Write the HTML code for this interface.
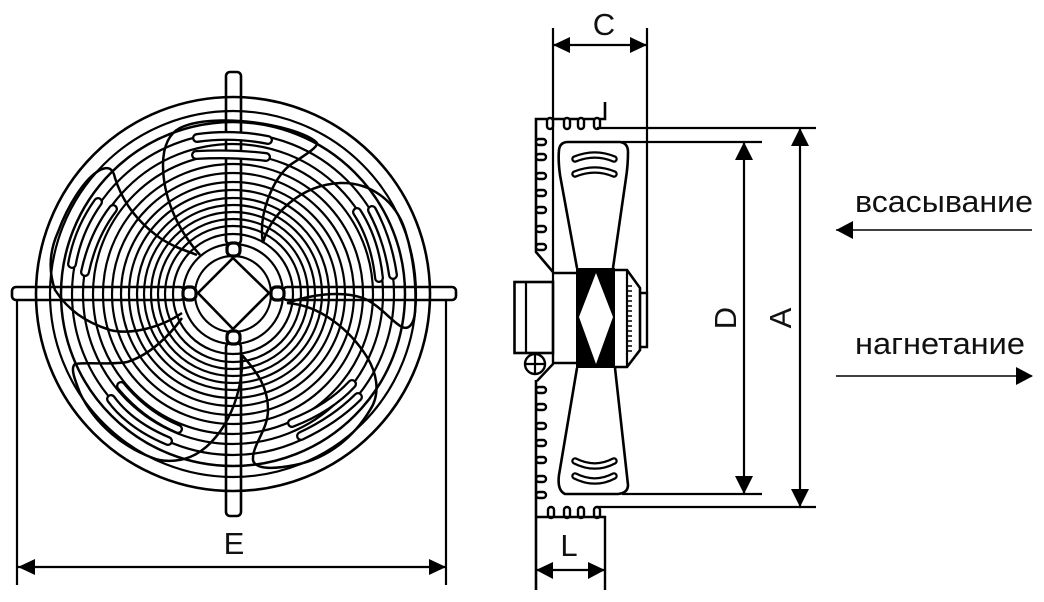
<!DOCTYPE html>
<html><head><meta charset="utf-8"><style>
html,body{margin:0;padding:0;background:#fff}
svg{display:block}
text{font-family:"Liberation Sans",sans-serif;fill:#111}
</style></head><body>
<svg width="1044" height="602" viewBox="0 0 1044 602" xmlns="http://www.w3.org/2000/svg">
<rect width="1044" height="602" fill="#fff"/>
<g fill="none" stroke="#000" stroke-width="2.2">
<g>
<circle cx="233" cy="294" r="197" stroke-width="2.6"/><circle cx="233" cy="294" r="183"/><circle cx="233" cy="294" r="172" stroke-width="2.5"/><circle cx="233" cy="294" r="161"/><circle cx="233" cy="294" r="150"/><circle cx="233" cy="294" r="140"/><circle cx="233" cy="294" r="130"/><circle cx="233" cy="294" r="121"/><circle cx="233" cy="294" r="112"/><circle cx="233" cy="294" r="104"/><circle cx="233" cy="294" r="96"/><circle cx="233" cy="294" r="89"/><circle cx="233" cy="294" r="82"/><circle cx="233" cy="294" r="75"/><circle cx="233" cy="294" r="68"/><circle cx="233" cy="294" r="60"/><circle cx="233" cy="294" r="50"/><circle cx="233" cy="294" r="38"/>
</g>
<path d="M233 258L269 293L233 329L198 293Z" fill="#fff" stroke-width="2.6"/>
<g stroke-width="2.6">
<rect x="12" y="287" width="172" height="13" rx="4"/>
<rect x="283" y="287" width="173" height="13" rx="4"/>
<rect x="226" y="72" width="15" height="172" rx="4"/>
<rect x="226" y="343" width="15" height="173" rx="4"/>
</g>
<g fill="#fff" stroke-width="3.2">
<rect x="183" y="287" width="13" height="13" rx="5"/><rect x="271" y="287" width="13" height="13" rx="5"/><rect x="227" y="243" width="13" height="13" rx="5"/><rect x="227" y="331" width="13" height="13" rx="5"/>
</g>
<g stroke-width="2.5">
<path d="M200 255C176 228 163 195 163 165C163 145 170 133 180 128C200 118 240 119 270 125C295 130 312 137 317 143C318 148 300 158 290 165C272 180 258 215 263 243"/>
<path d="M263 243C270 215 300 185 340 183C370 182 395 200 405 230C413 255 417 285 415 312C414 325 408 330 402 327C392 322 380 305 363 298C340 290 310 295 287 303"/>
<path d="M287 303C320 305 350 330 367 357C378 375 380 395 370 410C355 435 330 458 295 465C275 469 255 470 253 460C252 445 268 430 268 410C268 385 255 370 242 355"/>
<path d="M242 355C244 400 220 445 190 457C175 463 160 461 153 458C125 448 95 425 80 393C75 380 70 368 75 364C90 362 110 365 127 362C150 355 170 335 182 318"/>
<path d="M182 313C160 328 130 335 110 330C85 322 68 310 55 290C48 270 50 250 58 232C68 205 85 178 100 170C108 166 113 168 115 178C122 200 135 220 160 238C175 248 190 252 197 255"/>
</g>
<g stroke-linecap="round">
<g stroke="#000" stroke-width="10">
<path d="M197 138Q233 133 268 140"/><path d="M196 155Q233 153 266 157"/>
<path d="M357 212Q375 240 379 278"/><path d="M372 210Q388 240 393 275"/>
<path d="M98 202Q78 230 72 264"/><path d="M113 209Q93 235 85 272"/>
<path d="M111 399Q130 425 168 441"/><path d="M121 386Q145 415 178 429"/>
<path d="M352 384Q330 408 292 423"/><path d="M358 397Q335 420 301 436"/>
</g>
<g stroke="#fff" stroke-width="5.400">
<path d="M197 138Q233 133 268 140"/><path d="M196 155Q233 153 266 157"/>
<path d="M357 212Q375 240 379 278"/><path d="M372 210Q388 240 393 275"/>
<path d="M98 202Q78 230 72 264"/><path d="M113 209Q93 235 85 272"/>
<path d="M111 399Q130 425 168 441"/><path d="M121 386Q145 415 178 429"/>
<path d="M352 384Q330 408 292 423"/><path d="M358 397Q335 420 301 436"/>
</g>
</g>

<path d="M605 102V119H536V252L553 272" stroke-width="2.6"/>
<path d="M553 28V353"/>
<path d="M647 28V293"/>
<g stroke-width="2.4" fill="#fff">
<rect x="547" y="118" width="6" height="11" rx="3"/><rect x="564" y="118" width="6" height="11" rx="3"/><rect x="578" y="118" width="6" height="11" rx="3"/><rect x="594" y="118" width="6" height="11" rx="3"/>
<rect x="536" y="139" width="10" height="6" rx="3"/><rect x="536" y="154" width="10" height="6" rx="3"/><rect x="536" y="173" width="10" height="6" rx="3"/><rect x="536" y="190" width="10" height="6" rx="3"/><rect x="536" y="207" width="10" height="6" rx="3"/><rect x="536" y="226" width="10" height="6" rx="3"/><rect x="536" y="244" width="10" height="6" rx="3"/>
<rect x="536" y="387" width="10" height="6" rx="3"/><rect x="536" y="404" width="10" height="6" rx="3"/><rect x="536" y="423" width="10" height="6" rx="3"/><rect x="536" y="440" width="10" height="6" rx="3"/><rect x="536" y="457" width="10" height="6" rx="3"/><rect x="536" y="476" width="10" height="6" rx="3"/><rect x="536" y="492" width="10" height="6" rx="3"/>
<rect x="548" y="507" width="6" height="11" rx="3"/><rect x="564" y="507" width="6" height="11" rx="3"/><rect x="578" y="507" width="6" height="11" rx="3"/><rect x="594" y="507" width="6" height="11" rx="3"/>
</g>
<path d="M597 128H816M597 507H816"/>
<path d="M622 142H762M622 494H762"/>
<path d="M577 268L560 175Q558 160 559 150Q560 142 568 142H620Q628 143 628 152Q628 165 626 178L613 268" stroke-width="2.6"/>
<path d="M577 368L559 475Q557 490 565 494H618Q628 493 628 485L615 368" stroke-width="2.6"/>
<g stroke-linecap="round">
<g stroke="#000" stroke-width="7.500">
<path d="M575 159Q595 151 614 159"/><path d="M575 174Q595 166 614 174"/><path d="M575 461Q595 471 614 461"/><path d="M575 476Q595 486 614 476"/>
</g>
<g stroke="#fff" stroke-width="3">
<path d="M575 159Q595 151 614 159"/><path d="M575 174Q595 166 614 174"/><path d="M575 461Q595 471 614 461"/><path d="M575 476Q595 486 614 476"/>
</g>
</g>
<path d="M576 268H615V368H576Z" fill="#000" stroke="none"/>
<path d="M596 273L613 317L596 364L579 317Z" fill="#fff" stroke="none"/>
<path d="M553 273H576M553 363H576" stroke-width="2.6"/>
<path d="M615 270H627L640 288V350L627 367H615" stroke-width="2.6"/>
<path d="M627 270V367"/>
<path d="M627 286H632M627 291H632M627 296H632M627 301H632M627 306H632M627 311H632M627 316H632M627 321H632M627 326H632M627 331H632M627 336H632M627 341H632M627 346H632M627 351H632" stroke-width="1.6"/>
<path d="M640 293H647V347H640" stroke-width="2.4"/>
<rect x="514.500" y="282" width="38.500" height="71" stroke-width="2.6"/>
<path d="M526 282V353"/>
<circle cx="535" cy="364" r="10" stroke-width="2.4"/>
<path d="M525 364H545M535 354V374"/>
<path d="M553 353V364L537 381" stroke-width="2.4"/>
<path d="M536 380V590" stroke-width="2.6"/>
<path d="M536 517H605V590" stroke-width="2.4"/>

<path d="M17 300V585M446 300V585"/>
<path d="M18 567H446M553 45H647M744 142V494M800 128V507M536 570H605"/>
<path d="M836 230H1032M836 376H1032" stroke-width="1.6"/>
</g>
<g fill="#000">
<path d="M18 567L35 559V575Z"/><path d="M446 567L429 559V575Z"/>
<path d="M553 45L570 37V53Z"/><path d="M647 45L630 37V53Z"/>
<path d="M744 142L735 160H753Z"/><path d="M744 494L735 476H753Z"/>
<path d="M800 128L791 146H809Z"/><path d="M800 507L791 489H809Z"/>
<path d="M536 570L553 562V579Z"/><path d="M605 570L588 562V579Z"/>
<path d="M836 230L853 221V239Z"/><path d="M1033 376L1016 367V385Z"/>
</g>
<text x="604" y="35" font-size="31" text-anchor="middle">C</text>
<text x="234" y="554" font-size="31" text-anchor="middle">E</text>
<text x="569" y="556" font-size="31" text-anchor="middle">L</text>
<text transform="translate(736 318) rotate(-90)" font-size="31" text-anchor="middle">D</text>
<text transform="translate(791 318) rotate(-90)" font-size="31" text-anchor="middle">A</text>
<text x="855" y="212" font-size="31" textLength="178" lengthAdjust="spacingAndGlyphs">всасывание</text>
<text x="855" y="354" font-size="31" textLength="170" lengthAdjust="spacingAndGlyphs">нагнетание</text>
</svg>
</body></html>
